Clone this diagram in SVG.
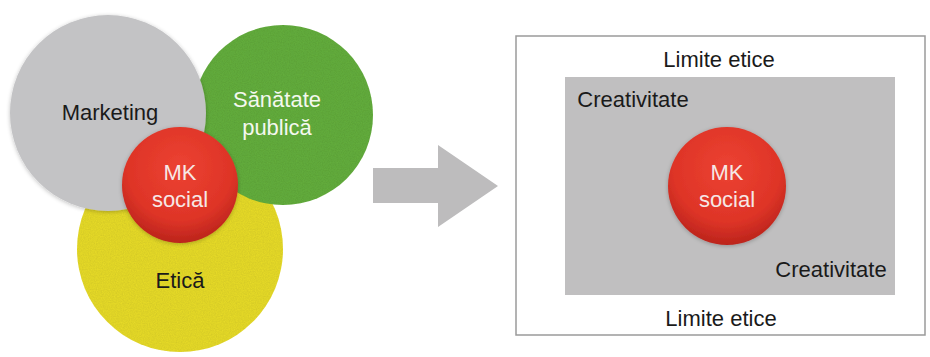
<svg xmlns="http://www.w3.org/2000/svg" width="930" height="357" viewBox="0 0 930 357">
  <style>
    .lbl { font-family: "Liberation Sans", Arial, sans-serif; font-size: 22px; text-anchor: middle; }
    .dark { fill: #1a1a1a; }
    .light { fill: #f6e8e6; }
    .white { fill: #f4f8ef; }
  </style>
  <defs>
    <radialGradient id="redBall" cx="0.5" cy="0.35" r="0.65">
      <stop offset="0" stop-color="#ec4232"/>
      <stop offset="0.7" stop-color="#de3427"/>
      <stop offset="1" stop-color="#bb241c"/>
    </radialGradient>
    <filter id="grain" x="0" y="0" width="1" height="1">
      <feTurbulence type="fractalNoise" baseFrequency="0.85" numOctaves="2" seed="3" result="noise"/>
      <feColorMatrix in="noise" type="matrix" values="0 0 0 0 0  0 0 0 0 0  0 0 0 0 0  0 0 0 0.22 -0.04" result="dots"/>
      <feComposite in="dots" in2="SourceGraphic" operator="in" result="dotsIn"/>
      <feMerge>
        <feMergeNode in="SourceGraphic"/>
        <feMergeNode in="dotsIn"/>
      </feMerge>
    </filter>
    <filter id="soft" x="-10%" y="-10%" width="120%" height="120%">
      <feGaussianBlur in="SourceAlpha" stdDeviation="2"/>
      <feOffset dx="0" dy="1" result="b"/>
      <feComponentTransfer><feFuncA type="linear" slope="0.25"/></feComponentTransfer>
      <feMerge><feMergeNode/><feMergeNode in="SourceGraphic"/></feMerge>
    </filter>
  </defs>

  <rect width="930" height="357" fill="#ffffff"/>

  <!-- Venn of overlapping areas -->
  <g id="etica">
    <circle cx="180" cy="249" r="103" fill="#e6da2c" filter="url(#grain)"/>
    <text class="lbl dark" x="180" y="288">Etică</text>
  </g>
  <g id="sanatate-publica">
    <circle cx="283" cy="115" r="90" fill="#63ad3d" filter="url(#grain)"/>
    <text class="lbl white" x="277" y="107">Sănătate</text>
    <text class="lbl white" x="277" y="135">publică</text>
  </g>
  <g id="marketing">
    <circle cx="108" cy="113" r="98" fill="#c3c3c5" filter="url(#soft)"/>
    <text class="lbl dark" x="110" y="120">Marketing</text>
  </g>
  <g id="mk-social-venn">
    <circle cx="180" cy="185" r="58" fill="url(#redBall)" filter="url(#soft)"/>
    <text class="lbl light" x="180" y="180">MK</text>
    <text class="lbl light" x="180" y="207">social</text>
  </g>

  <!-- transition arrow -->
  <g id="connectors">
    <polygon points="373,168 438,168 438,145 498,186 438,227 438,203 373,203" fill="#bdbcbd"/>
  </g>

  <!-- framed view: ethical limits around creative space -->
  <g id="limite-etice">
    <rect x="516" y="36" width="409" height="299" fill="#ffffff" stroke="#9a9a9a" stroke-width="1.5"/>
    <text class="lbl dark" x="719" y="67">Limite etice</text>
    <text class="lbl dark" x="721" y="326">Limite etice</text>
  </g>
  <g id="creativitate">
    <rect x="565" y="77" width="330" height="218" fill="#c0bfc0"/>
    <text class="lbl dark" x="633" y="107">Creativitate</text>
    <text class="lbl dark" x="831" y="277">Creativitate</text>
  </g>
  <g id="mk-social">
    <circle cx="727" cy="186" r="59" fill="url(#redBall)" filter="url(#soft)"/>
    <text class="lbl light" x="727" y="180">MK</text>
    <text class="lbl light" x="727" y="207">social</text>
  </g>
</svg>
